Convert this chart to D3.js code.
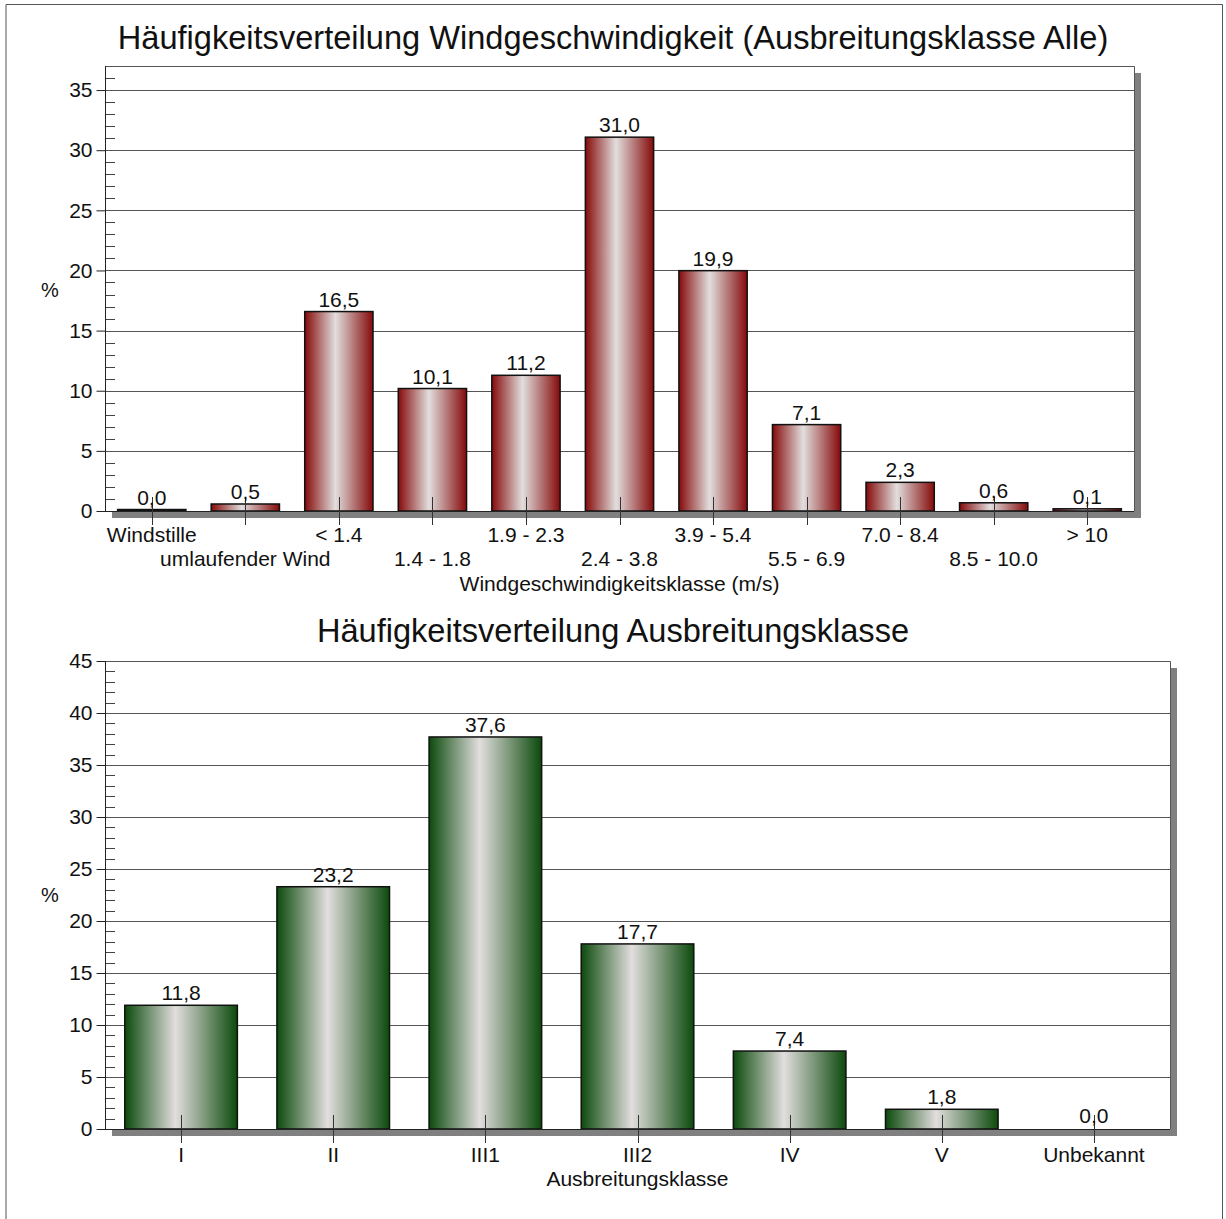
<!DOCTYPE html>
<html><head><meta charset="utf-8">
<script src="https://cdn.jsdelivr.net/npm/d3@7"></script>
<style>body{margin:0;background:#fff;} text{font-family:"Liberation Sans",Arial,sans-serif;fill:#111;}</style>
</head><body>
<svg id="c" width="1226" height="1219"></svg>
<script>
// ---- data ----
const windCategories = ["Windstille","umlaufender Wind","< 1.4","1.4 - 1.8","1.9 - 2.3","2.4 - 3.8","3.9 - 5.4","5.5 - 6.9","7.0 - 8.4","8.5 - 10.0","> 10"];
const windValues = [0.04,0.5,16.5,10.1,11.2,31.0,19.9,7.1,2.3,0.6,0.1];
const windTicks = [0,5,10,15,20,25,30,35];
const classCategories = ["I","II","III1","III2","IV","V","Unbekannt"];
const classValues = [11.8,23.2,37.6,17.7,7.4,1.8,0.0];
const classTicks = [0,5,10,15,20,25,30,35,40,45];

const svg = d3.select("#c");
// page border
svg.append("path").attr("d","M6,1219 V4.5 H1222.5 V1219").attr("fill","none").attr("stroke","#555").attr("stroke-width",1);

const defs = svg.append("defs");
function grad(id, edge){
  const g = defs.append("linearGradient").attr("id",id).attr("x1","0%").attr("x2","100%").attr("y1","0").attr("y2","0");
  [[0,edge],[0.45,"#e2dede"],[1,edge]].forEach(([o,c])=>g.append("stop").attr("offset",o).attr("stop-color",c));
}
grad("gRed","#850a0a");
grad("gGreen","#0c4a0c");

const fmt = v => d3.format(".1f")(v).replace(".",",");

function chart(o){
  const {x0,x1,yTop,y0,max,cats,vals,ticks,fill,pad,title,titleY,xTitle,xTitleY,labelY,twoRows,pctY} = o;
  const g = svg.append("g");
  const x = d3.scaleBand().domain(cats).range([x0,x1]).paddingInner(pad).paddingOuter(pad/2);
  const y = d3.scaleLinear().domain([0,max]).range([y0,yTop]);
  // shadow
  g.append("rect").attr("x",x0+7).attr("y",yTop+7).attr("width",x1-x0).attr("height",y0-yTop).attr("fill","#808080");
  g.append("rect").attr("x",x0).attr("y",yTop).attr("width",x1-x0).attr("height",y0-yTop).attr("fill","#fff");
  // grid
  g.selectAll(".grid").data(ticks.filter(t=>t>0)).enter().append("line")
    .attr("x1",x0).attr("x2",x1).attr("y1",d=>Math.round(y(d))+0.5).attr("y2",d=>Math.round(y(d))+0.5)
    .attr("stroke","#555").attr("stroke-width",1);
  // border top/right
  g.append("path").attr("d",`M${x0},${yTop+0.5} H${x1+0.5} V${y0}`).attr("fill","none").attr("stroke","#555");
  // minor ticks
  const minors = d3.range(1,max).filter(v=>v%5!==0);
  g.selectAll(".minor").data(minors).enter().append("line")
    .attr("x1",x0).attr("x2",x0+10).attr("y1",d=>Math.round(y(d))+0.5).attr("y2",d=>Math.round(y(d))+0.5)
    .attr("stroke","#444");
  // y axis
  const ya = g.append("g").attr("transform",`translate(${x0+0.5},0)`)
    .call(d3.axisLeft(y).tickValues(ticks).tickSize(9).tickPadding(4).tickFormat(d3.format("d")));
  ya.select(".domain").attr("stroke","#222").attr("d",`M0,${y0}V${yTop}`);
  ya.selectAll(".tick line").attr("stroke","#222");
  ya.selectAll(".tick text").attr("font-size",21).attr("fill","#111").attr("font-family","Liberation Sans, Arial");
  // bars
  g.selectAll(".bar").data(vals.map((v,i)=>({v,c:cats[i]})).filter(d=>d.v>0)).enter().append("rect")
    .attr("x",d=>x(d.c)).attr("width",x.bandwidth())
    .attr("y",d=>y(d.v)-1).attr("height",d=>y0-y(d.v)+1)
    .attr("fill",`url(#${fill})`).attr("stroke","#111").attr("stroke-width",1.5);
  // zero axis
  g.append("line").attr("x1",x0).attr("x2",x1).attr("y1",y0+0.5).attr("y2",y0+0.5).attr("stroke","#222");
  // x ticks
  g.selectAll(".xt").data(cats).enter().append("line")
    .attr("x1",d=>Math.round(x(d)+x.bandwidth()/2)+0.5).attr("x2",d=>Math.round(x(d)+x.bandwidth()/2)+0.5)
    .attr("y1",y0-14).attr("y2",y0+14).attr("stroke","#333");
  // value labels
  g.selectAll(".vl").data(vals).enter().append("text")
    .attr("x",(d,i)=>x(cats[i])+x.bandwidth()/2).attr("y",d=>y(d)-6)
    .attr("text-anchor","middle").attr("font-size",21).text(d=>fmt(d));
  // x labels
  g.selectAll(".xl").data(cats).enter().append("text")
    .attr("x",d=>x(d)+x.bandwidth()/2)
    .attr("y",(d,i)=> twoRows && i%2===1 ? labelY+24 : labelY)
    .attr("text-anchor","middle").attr("font-size",21).text(d=>d);
  // titles
  svg.append("text").attr("x",613).attr("y",titleY).attr("text-anchor","middle").attr("font-size",32.6).text(title);
  svg.append("text").attr("x",(x0+x1)/2).attr("y",xTitleY).attr("text-anchor","middle").attr("font-size",21).text(xTitle);
  svg.append("text").attr("x",50).attr("y",pctY).attr("text-anchor","middle").attr("font-size",20).text("%");
}

chart({x0:105,x1:1134,yTop:66,y0:511,max:37,cats:windCategories,vals:windValues,ticks:windTicks,fill:"gRed",pad:0.27,
  title:"Häufigkeitsverteilung Windgeschwindigkeit (Ausbreitungsklasse Alle)",titleY:49,
  xTitle:"Windgeschwindigkeitsklasse (m/s)",xTitleY:591,labelY:542,twoRows:true,pctY:297});
chart({x0:105,x1:1170,yTop:661,y0:1129,max:45,cats:classCategories,vals:classValues,ticks:classTicks,fill:"gGreen",pad:0.26,
  title:"Häufigkeitsverteilung Ausbreitungsklasse",titleY:642,
  xTitle:"Ausbreitungsklasse",xTitleY:1186,labelY:1162,twoRows:false,pctY:902});
</script>
</body></html>
